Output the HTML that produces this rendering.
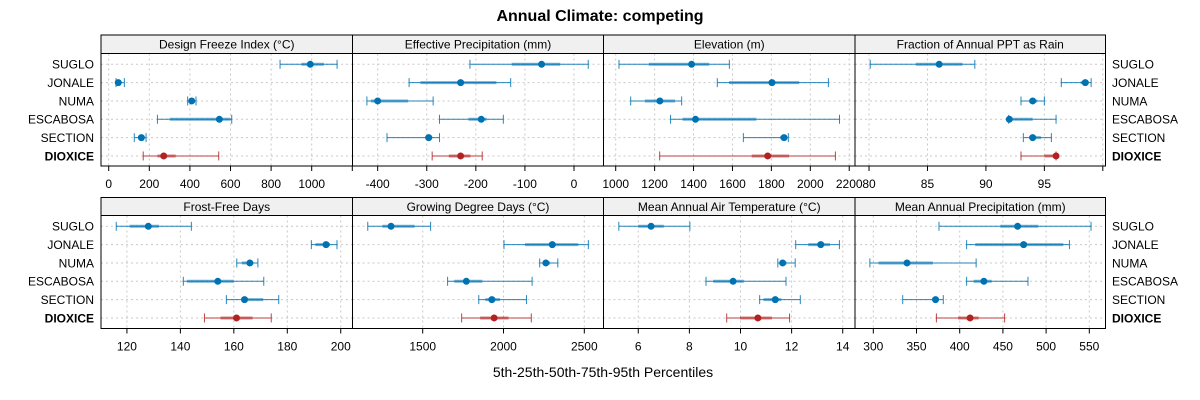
<!DOCTYPE html>
<html><head><meta charset="utf-8">
<style>
html,body{margin:0;padding:0;background:#fff;}
svg{display:block;font-family:"Liberation Sans",sans-serif;}
</style></head>
<body>
<svg id="chart" width="1200" height="400" viewBox="0 0 1200 400">
<text x="600" y="21" text-anchor="middle" font-size="16" font-weight="bold" fill="#000">Annual Climate: competing</text>
<text x="603" y="377" text-anchor="middle" font-size="14" fill="#000">5th-25th-50th-75th-95th Percentiles</text>
</svg>
<script>
const categories = ["SUGLO","JONALE","NUMA","ESCABOSA","SECTION","DIOXICE"];
const panelTitles = ["Design Freeze Index (\u00B0C)","Effective Precipitation (mm)","Elevation (m)","Fraction of Annual PPT as Rain","Frost-Free Days","Growing Degree Days (\u00B0C)","Mean Annual Air Temperature (\u00B0C)","Mean Annual Precipitation (mm)"];
const p5  = [[844,36,389,240,126,170],[-212,-336,-422,-274,-381,-289],[1017,1522,1077,1282,1656,1226],[80.1,96.45,93,91.95,93.2,93],[116,189,161.1,141.1,157.2,149],[1160,2003,2224,1654,1847,1741],[5.24,12.16,11.46,8.65,10.75,9.46],[376,408,296,408,334,373]];
const p25 = [[950,40,400,300,145,240],[-127,-313,-414,-215,-303,-255],[1170,1582,1150,1343,1845,1699],[84,98.1,93.7,92,93.7,95],[121,190.5,163,142.5,163,155],[1250,2133,2247,1695,1887,1855],[6.0,12.65,11.55,8.93,10.9,9.98],[447,418,306,416,370,398]];
const p50 = [[993,47,409,545,161,271],[-66,-231,-400,-189,-296,-231],[1390,1803,1227,1410,1865,1781],[86,98.5,94,92,94,96],[128,194.5,166,154,164,161],[1304,2302,2262,1770,1928,1942],[6.5,13.14,11.65,9.71,11.36,10.68],[467,474,339,428,372,412]];
const p75 = [[1060,60,420,600,175,330],[-28,-158,-338,-178,-289,-211],[1480,1943,1305,1723,1879,1891],[88,98.8,94.4,94,94.7,96],[132,196,167.3,160,171,167],[1450,2463,2289,1869,1979,2031],[7.0,13.5,11.8,10.13,11.6,11.23],[491,520,369,437,375,422]];
const p95 = [[1125,77,430,606,184,542],[29,-129,-287,-144,-274,-187],[1584,2093,1339,2150,1887,2129],[89.05,99.0,95,96,95.6,96],[144.1,198.6,169,171.2,176.8,174],[1549,2525,2336,2177,2142,2172],[8.02,13.87,12.14,11.78,12.34,11.92],[552,527,419,479,381,452]];
const domains = [[-38,1201],[-451.3,60.1],[937.3,2229.7],[78.8,100.23],[110.3,204.4],[1065.6,2618.8],[4.64,14.48],[278.8,568.75]];
const ticks = [[0,200,400,600,800,1000,1200],[-400,-300,-200,-100,0],[1000,1200,1400,1600,1800,2000,2200],[80,85,90,95,100],[120,140,160,180,200],[1500,2000,2500],[6,8,10,12,14],[300,350,400,450,500,550]];
const tickLabels = [["0","200","400","600","800","1000",""],["-400","-300","-200","-100","0"],["1000","1200","1400","1600","1800","2000","2200"],["80","85","90","95",""],["120","140","160","180","200"],["1500","2000","2500"],["6","8","10","12","14"],["300","350","400","450","500","550"]];

const NS="http://www.w3.org/2000/svg";
const svg=document.getElementById('chart');
function mk(tag,attrs,parent){const e=document.createElementNS(NS,tag);for(const k in attrs)e.setAttribute(k,attrs[k]);(parent||svg).appendChild(e);return e;}
const colX=[101,352.5,603.5,855,1105.5];
const rowsLayout=[{strip:35,body:53.5,bottom:166,row0:64.3},{strip:197.5,body:215.5,bottom:328.5,row0:226.3}];
const rowStep=18.33;
const BLUE="#0072B2", RED="#B22222";

for(let p=0;p<8;p++){
  const r=Math.floor(p/4), c=p%4;
  const L=rowsLayout[r];
  const x0=colX[c], x1=colX[c+1];
  const xs=v=>x0+(v-domains[p][0])/(domains[p][1]-domains[p][0])*(x1-x0);
  const ys=i=>L.row0+i*rowStep;
  const g=mk('g',{});
  
  
  const strip=mk('rect',{x:x0,y:L.strip,width:x1-x0,height:L.body-L.strip,fill:'#f0f0f0',stroke:'#000','stroke-width':1},g);
  
  
  const st=mk('text',{x:(x0+x1)/2,y:L.strip+13.5,'text-anchor':'middle','font-size':12,fill:'#000'},g);
  st.textContent=panelTitles[p];
  
  
  ticks[p].forEach(t=>{const x=xs(t); if(x>x0+1&&x<x1-1){const gl=mk('line',{x1:x,x2:x,y1:L.body,y2:L.bottom,stroke:'#c8c8c8','stroke-dasharray':'2,3','stroke-width':1},g);}});
  categories.forEach((cat,i)=>{const hl=mk('line',{x1:x0,x2:x1,y1:ys(i),y2:ys(i),stroke:'#c8c8c8','stroke-dasharray':'2,3','stroke-width':1},g);});
  ticks[p].forEach((t,k)=>{const x=xs(t);
    const tl=mk('line',{x1:x,x2:x,y1:L.bottom,y2:L.bottom+5,stroke:'#000','stroke-width':1},g);
    
    
    if(tickLabels[p][k]){const tt=mk('text',{x:x,y:L.bottom+22,'text-anchor':'middle','font-size':12,fill:'#000'},g);tt.textContent=tickLabels[p][k];
    
    }
  });
  categories.forEach((cat,i)=>{
    const col=(i===5)?RED:BLUE; const y=ys(i);
    const mg=mk('g',{},g);
    
    
    mk('line',{x1:xs(p5[p][i]),x2:xs(p95[p][i]),y1:y,y2:y,stroke:col,'stroke-width':1,'stroke-opacity':0.85},mg);
    mk('line',{x1:xs(p5[p][i]),x2:xs(p5[p][i]),y1:y-4.5,y2:y+4.5,stroke:col,'stroke-width':1,'stroke-opacity':0.85},mg);
    mk('line',{x1:xs(p95[p][i]),x2:xs(p95[p][i]),y1:y-4.5,y2:y+4.5,stroke:col,'stroke-width':1,'stroke-opacity':0.85},mg);
    mk('line',{x1:xs(p25[p][i]),x2:xs(p75[p][i]),y1:y,y2:y,stroke:col,'stroke-width':3,'stroke-opacity':0.55},mg);
    mk('circle',{cx:xs(p50[p][i]),cy:y,r:3.5,fill:col},mg);
  });
  const fr=mk('rect',{x:x0,y:L.body,width:x1-x0,height:L.bottom-L.body,fill:'none',stroke:'#000','stroke-width':1},g);
  
  
}
for(let r=0;r<2;r++){
  const L=rowsLayout[r];
  categories.forEach((cat,i)=>{
    const y=L.row0+i*rowStep+4.3;
    const a=mk('text',{x:94,y:y,'text-anchor':'end','font-size':12,fill:'#000','font-weight':i===5?'bold':'normal'});
    a.textContent=cat;
    
    
    const b=mk('text',{x:1112,y:y,'text-anchor':'start','font-size':12,fill:'#000','font-weight':i===5?'bold':'normal'});
    b.textContent=cat;
    
    
  });
}
</script>
</body></html>
